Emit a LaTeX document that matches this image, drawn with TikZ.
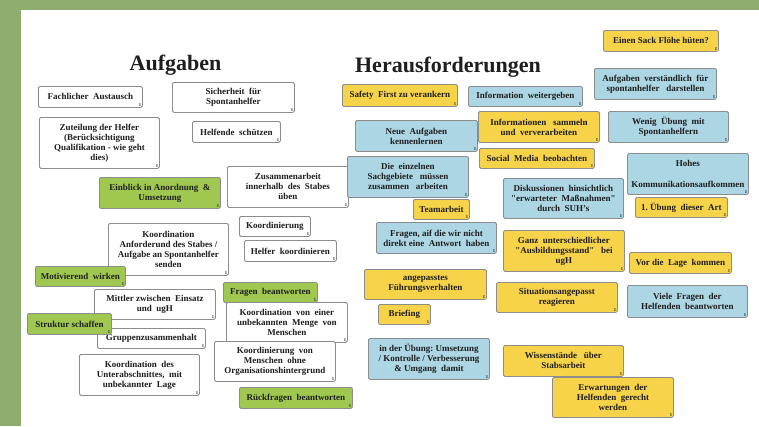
\documentclass[tikz,border=0pt]{standalone}
\usepackage{fontspec}
\setmainfont{Liberation Serif}
\usepackage{xcolor}
\usetikzlibrary{positioning}

\definecolor{bandgruen}{RGB}{143,173,110}
\definecolor{kartegruen}{RGB}{160,200,80}
\definecolor{kartegelb}{RGB}{247,211,74}
\definecolor{karteblau}{RGB}{172,214,228}
\definecolor{rand}{RGB}{140,140,140}
\definecolor{schrift}{RGB}{30,30,30}

\newcommand{\gf}{\textquotedbl}

\tikzset{
  nummer/.style={anchor=south east, inner sep=1.5pt, text=schrift, font=\bfseries\fontsize{4.5}{5}\selectfont},
  karte/.style={draw=rand, line width=0.8pt, rounded corners=1.5pt, fill=white,
    anchor=north west, align=center, inner sep=2pt, text=schrift,
    font=\bfseries\fontsize{9}{10}\selectfont, label={[nummer]south east:1}},
  wh/.style 2 args={minimum width=#1pt, minimum height=#2pt},
  gruen/.style={karte, fill=kartegruen},
  gelb/.style={karte, fill=kartegelb},
  blau/.style={karte, fill=karteblau},
  titel/.style={anchor=base, text=schrift, font=\bfseries\fontsize{22}{24}\selectfont},
}

\begin{document}
\begin{tikzpicture}[x=1pt, y=-1pt]
    \fill[white] (0,0) rectangle (759,426);
    \useasboundingbox (0,0) rectangle (759,426);
    \fill[bandgruen] (0,0) rectangle (759,9.5);
    \fill[bandgruen] (0,0) rectangle (20.5,426);

    % Titel
    \node[titel] (aufgaben) at (175.5,70) {Aufgaben};
    \node[titel] (heraus) at (448,72) {Herausforderungen};

    % Aufgaben
    \node[karte, wh={104}{21}] (fachaustausch) at (38,86) {Fachlicher\ \ Austausch};
    \node[karte, wh={122}{30}] (sicherheit) at (172,82) {Sicherheit\ \ für\\Spontanhelfer};
    \node[karte, wh={120}{51}] (zuteilung) at (39,117) {Zuteilung\ der\ Helfer\\(Berücksichtigung\\Qualifikation\ -\ wie\ geht\\dies)};
    \node[karte, wh={88}{21}] (schuetzen) at (192,121) {Helfende\ \ schützen};
    \node[gruen, wh={121}{31}] (einblick) at (99,177) {Einblick\ in\ Anordnung\ \ \&\\Umsetzung};
    \node[karte, wh={121}{41}] (zusammenarbeit) at (227,166) {Zusammenarbeit\\innerhalb\ \ des\ \ Stabes\\üben};
    \node[karte, wh={71}{20}] (koordinierung) at (239,216) {Koordinierung};
    \node[karte, wh={92}{21}] (helferkoord) at (244,240) {Helfer\ \ koordinieren};
    \node[karte, wh={120}{52}] (anforderung) at (108,223) {Koordination\\Anforderund\ des\ Stabes\ /\\Aufgabe\ an\ Spontanhelfer\\senden};
    \node[gruen, wh={90}{20}] (motivierend) at (35,266) {Motivierend\ \ wirken};
    \node[karte, wh={108}{20}] (gruppe) at (97,328) {Gruppenzusammenhalt};
    \node[karte, wh={121}{30}] (mittler) at (94,289) {Mittler zwischen\ \ Einsatz\\und\ \ ugH};
    \node[gruen, wh={84}{21}] (struktur) at (27,313) {Struktur\ schaffen};
    \node[gruen, wh={94}{20}] (fragenbeantw) at (223,282) {Fragen\ \ beantworten};
    \node[karte, wh={121}{40}] (unbekanntmenge) at (226,302) {Koordination\ \ von\ \ einer\\unbekannten\ \ Menge\ \ von\\Menschen};
    \node[karte, wh={121}{40}] (ohneorg) at (214,341) {Koordinierung\ \ von\\Menschen\ \ ohne\\Organisationshintergrund};
    \node[karte, wh={120}{41}] (unterabschnitt) at (79,354) {Koordination\ \ des\\Unterabschnittes,\ \ mit\\unbekannter\ \ Lage};
    \node[gruen, wh={113}{21}] (rueckfragen) at (239,387) {Rückfragen\ \ beantworten};

    % Herausforderungen
    \node[gelb, wh={115}{21}] (sack) at (603,30) {Einen\ Sack\ Flöhe\ hüten?};
    \node[gelb, wh={115}{22}] (safety) at (342,84) {Safety\ \ First\ zu\ verankern};
    \node[blau, wh={114}{20}] (infoweiter) at (468,86) {Information\ \ weitergeben};
    \node[blau, wh={122}{31}] (verstaendlich) at (594,68) {Aufgaben\ \ verständlich\ \ für\\spontanhelfer\ \ \ darstellen};
    \node[blau, wh={122}{31}] (neueaufg) at (355,120) {Neue\ \ Aufgaben\\kennenlernen};
    \node[gelb, wh={121}{31}] (infosammeln) at (478,111) {Informationen\ \ \ sammeln\\und\ \ ververarbeiten};
    \node[blau, wh={120}{31}] (wenigueb) at (608,111) {Wenig\ \ Übung\ \ mit\\Spontanhelfern};
    \node[gelb, wh={115}{20}] (social) at (479,148) {Social\ \ Media\ \ beobachten};
    \node[blau, wh={121}{41}] (sachgebiete) at (347,156) {Die\ \ einzelnen\\Sachgebiete\ \ \ müssen\\zusammen\ \ \ arbeiten};
    \node[blau, wh={121}{41}] (hohes) at (627,153) {Hohes\\[11pt]Kommunikationsaufkommen};
    \node[blau, wh={120}{40}] (diskussionen) at (503,178) {Diskussionen\ \ hinsichtlich\\\gf erwarteter\ \ Maßnahmen\gf\\durch\ \ SUH's};
    \node[gelb, wh={56}{20}] (teamarbeit) at (413,199) {Teamarbeit};
    \node[gelb, wh={92}{20}] (ersteuebung) at (635,197) {1.\ Übung\ \ dieser\ \ Art};
    \node[blau, wh={120}{31}] (fragenohne) at (376,222) {Fragen,\ aif\ die\ wir\ nicht\\direkt\ eine\ \ Antwort\ \ haben};
    \node[gelb, wh={121}{41}] (ausbildung) at (503,230) {Ganz\ \ unterschiedlicher\\\gf Ausbildungsstand\gf\ \ \ bei\\ugH};
    \node[gelb, wh={102}{21}] (vorlage) at (629,252) {Vor\ die\ \ Lage\ \ kommen};
    \node[gelb, wh={122}{30}] (fuehrung) at (364,269) {angepasstes\\Führungsverhalten};
    \node[gelb, wh={121}{30}] (situation) at (496,282) {Situationsangepasst\\reagieren};
    \node[blau, wh={120}{32}] (vielefragen) at (627,285) {Viele\ \ Fragen\ \ der\\Helfenden\ \ beantworten};
    \node[gelb, wh={52}{20}] (briefing) at (378,304) {Briefing};
    \node[blau, wh={121}{41}] (inderuebung) at (368,338) {in der Übung:\ Umsetzung\\/ Kontrolle\ / Verbesserung\\\&\ Umgang\ \ damit};
    \node[gelb, wh={120}{31}] (wissen) at (503,345) {Wissenstände\ \ \ über\\Stabsarbeit};
    \node[gelb, wh={121}{40}] (erwartungen) at (552,377) {Erwartungen\ \ der\\Helfenden\ \ gerecht\\werden};
\end{tikzpicture}
\end{document}
